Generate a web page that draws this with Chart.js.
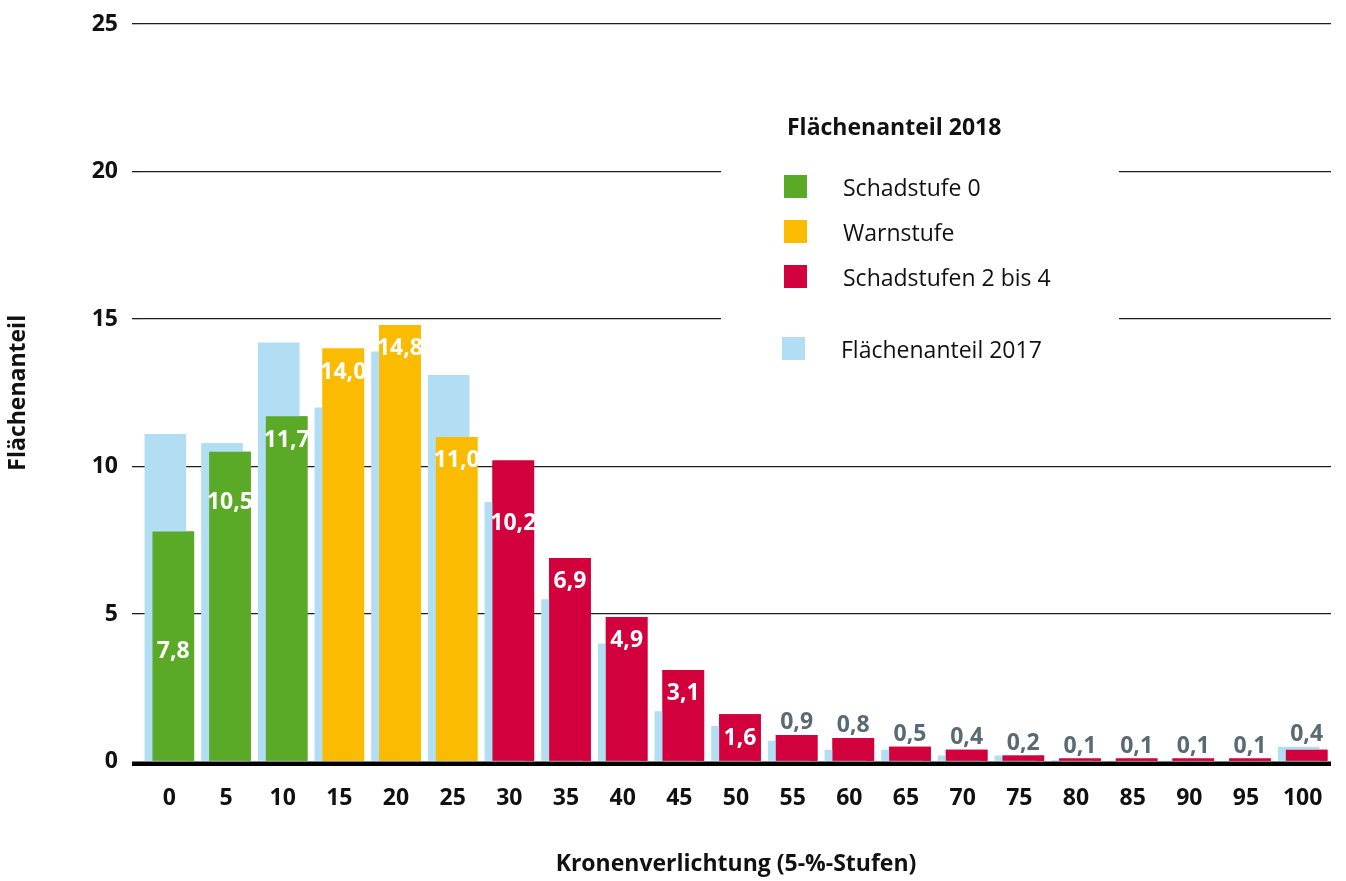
<!DOCTYPE html>
<html>
<head>
<meta charset="utf-8">
<script src="https://cdn.jsdelivr.net/npm/chart.js@4"></script>
<style>
  html, body { margin: 0; padding: 0; background: #ffffff; }
  #wrap { width: 1346px; height: 881px; }
</style>
</head>
<body>
<div id="wrap"><canvas id="c" width="1346" height="881"></canvas></div>
<script>
// ---------------- data ----------------
const categories = ['0','5','10','15','20','25','30','35','40','45','50','55','60','65','70','75','80','85','90','95','100'];
const share2018  = [7.8, 10.5, 11.7, 14.0, 14.8, 11.0, 10.2, 6.9, 4.9, 3.1, 1.6, 0.9, 0.8, 0.5, 0.4, 0.2, 0.1, 0.1, 0.1, 0.1, 0.4];
const share2017  = [11.1, 10.8, 14.2, 12.0, 13.9, 13.1, 8.8, 5.5, 4.0, 1.7, 1.2, 0.7, 0.4, 0.4, 0.2, 0.2, 0.05, 0.03, 0.03, 0.0, 0.5];
const stufe2018  = [0, 0, 0, 1, 1, 1, 2, 2, 2, 2, 2, 2, 2, 2, 2, 2, 2, 2, 2, 2, 2];
const stufeNames = ['Schadstufe 0', 'Warnstufe', 'Schadstufen 2 bis 4'];
const legendTitle = 'Flächenanteil 2018';
const label2017   = 'Flächenanteil 2017';
const yTicks      = [0, 5, 10, 15, 20, 25];
const xTitle      = 'Kronenverlichtung (5-%-Stufen)';
const yTitle      = 'Flächenanteil';

// ---------------- styles ----------------
const FONT = '"Open Sans", "Noto Sans", "DejaVu Sans", sans-serif';
const stufeColors = ['#5aaa28', '#fabb00', '#d2003c'];
const color2017 = '#b1def3';
const TEXT = '#111111';
const GRID = '#1e1e1e';
const OUT_LABEL = '#596a74';
const FS = 23;
const labelDrop = { 0: 118, 1: 49, 6: 61 };   // label nudges (px below bar top)

const fmt = v => v.toFixed(1).replace('.', ',');

const overlayPlugin = {
  id: 'overlay',
  beforeDatasetsDraw(chart, args, o) {
    const c = chart.ctx;
    c.save();
    c.fillStyle = '#ffffff';
    c.fillRect(o.boxX, o.boxY, o.boxW, o.boxH);
    c.restore();
  },
  afterDatasetsDraw(chart) {
    const c = chart.ctx;
    const meta17 = chart.getDatasetMeta(0);
    const meta18 = chart.getDatasetMeta(1);
    // 2018 bars in front of 2017 bars
    meta18.controller.draw();
    // thick zero line
    const area = chart.chartArea;
    const y0 = chart.scales.y.getPixelForValue(0);
    c.save();
    c.fillStyle = '#000000';
    c.fillRect(area.left - 9, y0, area.right - area.left + 9, 4.5);
    // value labels
    const fs = FS;
    c.font = `bold ${fs}px ${FONT}`;
    c.textAlign = 'center';
    c.textBaseline = 'alphabetic';
    meta18.data.forEach((bar, i) => {
      const h = bar.base - bar.y;
      let cy;
      if (h > 40) {
        c.fillStyle = '#ffffff';
        cy = bar.y + (labelDrop[i] !== undefined ? labelDrop[i] : 22);
      } else {
        c.fillStyle = OUT_LABEL;
        cy = Math.min(bar.y, meta17.data[i].y) - 14;
      }
      c.fillText(fmt(share2018[i]), bar.x, cy + 0.357 * fs);
    });
    c.restore();
  },
  afterDraw(chart, args, o) {
    const c = chart.ctx;
    const fs = FS;
    c.save();
    c.textAlign = 'left';
    c.textBaseline = 'alphabetic';
    c.fillStyle = TEXT;
    c.font = `bold ${fs}px ${FONT}`;
    c.fillText(legendTitle, o.titleX, o.titleY + 0.357 * fs);
    c.font = `${fs}px ${FONT}`;
    stufeNames.forEach((name, i) => {
      const y = o.rowsY[i];
      c.fillStyle = stufeColors[i];
      c.fillRect(o.swatchX, y - o.swatch / 2, o.swatch, o.swatch);
      c.fillStyle = TEXT;
      c.fillText(name, o.textX, y + 1 + 0.357 * fs);
    });
    c.fillStyle = color2017;
    c.fillRect(o.extraSwatchX, o.extraY - o.swatch / 2, o.swatch, o.swatch);
    c.fillStyle = TEXT;
    c.fillText(label2017, o.extraTextX, o.extraY + 1 + 0.357 * fs);
    c.restore();
  }
};

const tickFont = { family: FONT, size: FS, weight: 'bold' };

new Chart(document.getElementById('c'), {
  type: 'bar',
  data: {
    labels: categories,
    datasets: [
      {
        label: label2017,
        data: share2017,
        backgroundColor: color2017,
        borderWidth: 0,
        categoryPercentage: 0.28,
        barPercentage: 5.25
      },
      {
        label: legendTitle,
        data: share2018,
        backgroundColor: stufe2018.map(s => stufeColors[s]),
        borderWidth: 0,
        categoryPercentage: 0.28,
        barPercentage: 5.25
      }
    ]
  },
  options: {
    responsive: false,
    animation: false,
    devicePixelRatio: 1,
    layout: { padding: { left: 0, right: 15, top: 24, bottom: 0 } },
    plugins: {
      legend: { display: false },
      tooltip: { enabled: false },
      overlay: {
        boxX: 721, boxY: 98, boxW: 398, boxH: 282,
        titleX: 787, titleY: 127,
        swatchX: 784, textX: 843, rowsY: [186.5, 231.5, 276.5], swatch: 23,
        extraSwatchX: 782, extraTextX: 841, extraY: 348.5
      }
    },
    scales: {
      x: {
        grid: { display: false, drawTicks: false },
        border: { display: false },
        ticks: { color: TEXT, font: tickFont, padding: 23, maxRotation: 0, autoSkip: false },
        title: { display: true, text: xTitle, color: TEXT, font: tickFont, padding: { top: 0, bottom: 3 } },
        afterFit(s) { s.height = 119.5; }
      },
      y: {
        min: 0,
        max: 25,
        afterBuildTicks(s) { s.ticks = yTicks.map(v => ({ value: v })); },
        ticks: { color: TEXT, font: tickFont, padding: 14 },
        grid: {
          color: ctx => (ctx.tick && ctx.tick.value === 0) ? 'rgba(0,0,0,0)' : GRID,
          lineWidth: 1.3,
          drawTicks: true,
          tickLength: 9
        },
        border: { display: false },
        title: { display: true, text: yTitle, color: TEXT, font: tickFont, padding: { top: 5, bottom: 0 } },
        afterFit(s) { s.width = 141; s.paddingTop = 0; s.paddingBottom = 0; }
      }
    }
  },
  plugins: [overlayPlugin]
});
</script>
</body>
</html>
